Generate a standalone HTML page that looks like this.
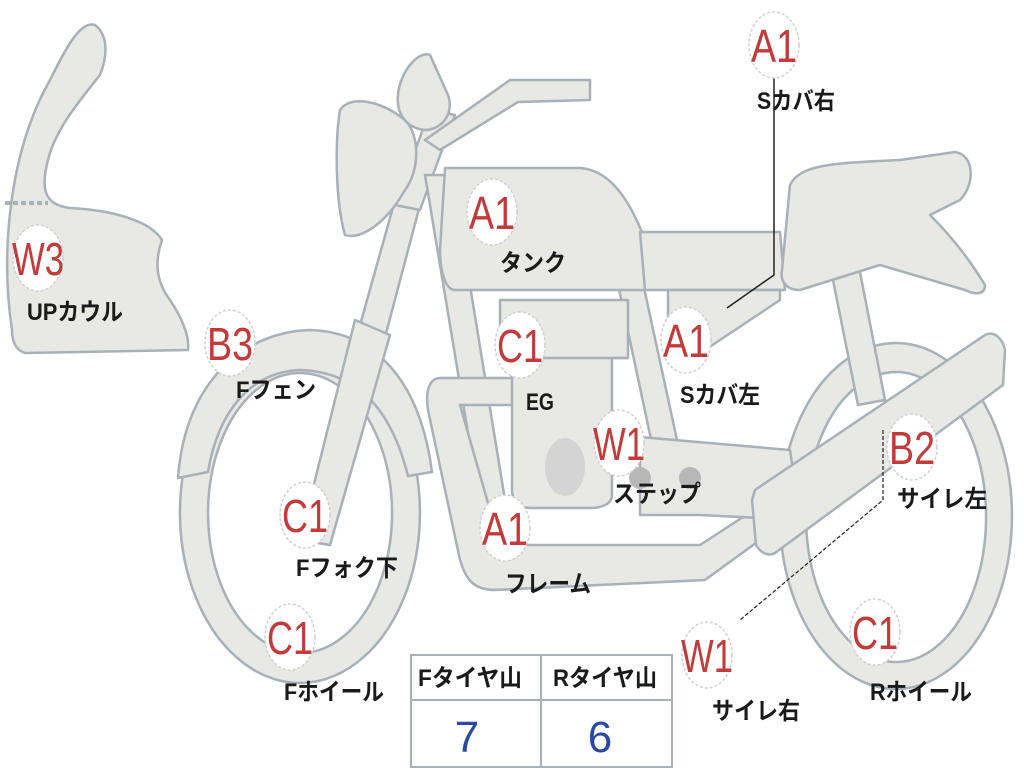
<!DOCTYPE html>
<html><head><meta charset="utf-8"><style>
html,body{margin:0;padding:0;background:#fff;width:1024px;height:768px;overflow:hidden}
svg{display:block}
.s{fill:#e8e8e4;stroke:#aab0b8;stroke-width:2.5;stroke-linejoin:round}
.lbl{font-family:"Liberation Sans","Noto Sans CJK JP",sans-serif;font-size:24px;fill:#1a1a1a;font-weight:bold}
.red{font-family:"Liberation Sans",sans-serif;font-size:46px;fill:#c23a3a}
.c{fill:#fff;stroke:#d0d0d0;stroke-width:1.5;stroke-dasharray:3 2}
</style></head><body>
<svg width="1024" height="768" viewBox="0 0 1024 768">
<path class="s" fill-rule="evenodd" d="M896 343 A116 173 0 1 1 895.9 343 Z M896 372 A90 145 0 1 0 896.1 372 Z"/>
<path class="s" fill-rule="evenodd" d="M300 343 A120 170 0 1 1 299.9 343 Z M300 373 A92 140 0 1 0 300.1 373 Z"/>
<path class="s" d="M178 478 C185 380 245 332 310 330 C375 332 420 380 432 472 L408 476 C392 412 360 372 300 370 C250 372 218 412 208 472 Z"/>
<path class="s" d="M12 330 C0 250 10 150 50 80 C65 50 80 20 95 25 C108 35 108 55 100 75 C80 100 55 130 48 160 C40 190 45 205 70 208 C110 210 150 220 162 240 C155 260 155 280 170 300 C180 315 190 335 188 350 L25 353 C15 350 12 340 12 330 Z"/>
<path d="M5 203 L48 203" stroke="#aab0b8" stroke-width="4" stroke-dasharray="5 3"/>
<path class="s" d="M300 540 L395 200 L420 205 L330 545 Z"/>
<path class="s" d="M355 320 L390 335 L330 545 L300 540 Z"/>
<path class="s" d="M395 205 L430 110 L455 115 L420 210 Z"/>
<path class="s" d="M340 110 C350 95 380 100 405 120 C420 135 420 170 405 190 C385 225 360 240 345 235 C335 200 335 140 340 110 Z"/>
<path class="s" d="M398 95 C400 70 420 50 430 55 L448 95 C455 115 440 130 425 130 C405 128 396 112 398 95 Z"/>
<path class="s" d="M425 140 L510 80 L590 80 L590 100 L518 102 L440 150 Z"/>
<path class="s" d="M425 175 L452 175 L505 500 L480 505 Z"/>
<path class="s" d="M600 200 L625 200 L690 500 L665 505 Z"/>
<path class="s" d="M440 378 L540 378 L540 405 L460 405 L500 545 L700 545 L800 480 L815 500 L705 580 L495 590 C470 590 465 575 460 560 L428 410 C425 390 430 378 440 378 Z"/>
<path class="s" d="M500 300 L628 300 L628 358 L612 358 L612 495 C612 505 600 508 590 508 L530 508 C518 508 512 500 512 490 L512 358 L500 358 Z"/>
<path d="M500 358 L628 358" stroke="#aab0b8" stroke-width="2.5"/>
<ellipse cx="565" cy="467" rx="20" ry="29" fill="#d4d4d4"/>
<path class="s" d="M640 437 L790 450 L800 520 L700 515 L640 515 Z"/>
<ellipse cx="640" cy="478" rx="11" ry="11" fill="#b8b8b8"/>
<ellipse cx="690" cy="478" rx="11" ry="11" fill="#b8b8b8"/>
<path class="s" d="M445 168 L580 168 C610 170 630 200 645 240 L645 290 L455 290 C445 290 440 270 440 250 Z"/>
<path class="s" d="M640 232 L780 232 L785 290 L645 290 Z"/>
<path class="s" d="M668 290 L780 290 L780 300 L705 350 L668 350 Z"/>
<path class="s" d="M830 265 L858 262 L885 400 L858 405 Z"/>
<path class="s" d="M790 185 C800 165 830 163 900 160 L955 152 C975 155 975 185 960 200 L930 215 C950 235 970 260 985 285 C985 295 975 295 965 290 L880 265 L800 290 C785 290 780 280 782 270 Z"/>
<path class="s" d="M755 490 L985 335 C995 330 1003 340 1005 350 L1003 385 L775 553 C768 557 760 552 756 545 L752 500 Z"/>
<path d="M774 72 L774 275 L727 308" stroke="#222" stroke-width="1.5" fill="none"/>
<path d="M883 430 L883 500 L740 620" stroke="#222" stroke-width="1.2" stroke-dasharray="4 2" fill="none"/>
<g>
<ellipse class="c" cx="774" cy="45" rx="25" ry="33"/>
<ellipse class="c" cx="492" cy="212" rx="25" ry="33"/>
<ellipse class="c" cx="38" cy="258" rx="25" ry="33"/>
<ellipse class="c" cx="230" cy="343" rx="25" ry="33"/>
<ellipse class="c" cx="520" cy="345" rx="25" ry="33"/>
<ellipse class="c" cx="686" cy="340" rx="25" ry="33"/>
<ellipse class="c" cx="619" cy="443" rx="25" ry="33"/>
<ellipse class="c" cx="912" cy="447" rx="25" ry="33"/>
<ellipse class="c" cx="305" cy="515" rx="25" ry="33"/>
<ellipse class="c" cx="505" cy="528" rx="25" ry="33"/>
<ellipse class="c" cx="290" cy="637" rx="25" ry="33"/>
<ellipse class="c" cx="707" cy="655" rx="25" ry="33"/>
<ellipse class="c" cx="875" cy="632" rx="25" ry="33"/>
</g>
<g class="red" text-anchor="middle">
<text x="774" y="62" textLength="46" lengthAdjust="spacingAndGlyphs">A1</text>
<text x="492" y="229" textLength="46" lengthAdjust="spacingAndGlyphs">A1</text>
<text x="38" y="275" textLength="52" lengthAdjust="spacingAndGlyphs">W3</text>
<text x="230" y="360" textLength="46" lengthAdjust="spacingAndGlyphs">B3</text>
<text x="520" y="362" textLength="46" lengthAdjust="spacingAndGlyphs">C1</text>
<text x="686" y="357" textLength="46" lengthAdjust="spacingAndGlyphs">A1</text>
<text x="619" y="460" textLength="52" lengthAdjust="spacingAndGlyphs">W1</text>
<text x="912" y="464" textLength="46" lengthAdjust="spacingAndGlyphs">B2</text>
<text x="305" y="532" textLength="46" lengthAdjust="spacingAndGlyphs">C1</text>
<text x="505" y="545" textLength="46" lengthAdjust="spacingAndGlyphs">A1</text>
<text x="290" y="654" textLength="46" lengthAdjust="spacingAndGlyphs">C1</text>
<text x="707" y="672" textLength="52" lengthAdjust="spacingAndGlyphs">W1</text>
<text x="875" y="649" textLength="46" lengthAdjust="spacingAndGlyphs">C1</text>
</g>
<g class="lbl">
<text x="757" y="109" textLength="78" lengthAdjust="spacingAndGlyphs">Sカバ右</text>
<text x="500" y="271" textLength="66" lengthAdjust="spacingAndGlyphs">タンク</text>
<text x="27" y="320" textLength="96" lengthAdjust="spacingAndGlyphs">UPカウル</text>
<text x="236" y="398" textLength="80" lengthAdjust="spacingAndGlyphs">Fフェン</text>
<text x="526" y="410" textLength="28" lengthAdjust="spacingAndGlyphs">EG</text>
<text x="680" y="403" textLength="80" lengthAdjust="spacingAndGlyphs">Sカバ左</text>
<text x="613" y="502" textLength="88" lengthAdjust="spacingAndGlyphs">ステップ</text>
<text x="897" y="507" textLength="90" lengthAdjust="spacingAndGlyphs">サイレ左</text>
<text x="296" y="576" textLength="102" lengthAdjust="spacingAndGlyphs">Fフォク下</text>
<text x="505" y="592" textLength="86" lengthAdjust="spacingAndGlyphs">フレーム</text>
<text x="284" y="700" textLength="100" lengthAdjust="spacingAndGlyphs">Fホイール</text>
<text x="712" y="719" textLength="88" lengthAdjust="spacingAndGlyphs">サイレ右</text>
<text x="870" y="700" textLength="102" lengthAdjust="spacingAndGlyphs">Rホイール</text>
</g>
<rect x="411" y="655" width="261" height="112" fill="#fff" stroke="#aab0b8" stroke-width="2"/>
<line x1="411" y1="700" x2="672" y2="700" stroke="#aab0b8" stroke-width="2"/>
<line x1="541" y1="655" x2="541" y2="767" stroke="#aab0b8" stroke-width="2"/>
<g class="lbl">
<text x="418" y="686" textLength="104" lengthAdjust="spacingAndGlyphs">Fタイヤ山</text>
<text x="553" y="686" textLength="104" lengthAdjust="spacingAndGlyphs">Rタイヤ山</text>
</g>
<g font-family="Liberation Sans,sans-serif" font-size="44" fill="#2a4aa0" text-anchor="middle">
<text x="467" y="752">7</text>
<text x="600" y="752">6</text>
</g>
</svg>
</body></html>
